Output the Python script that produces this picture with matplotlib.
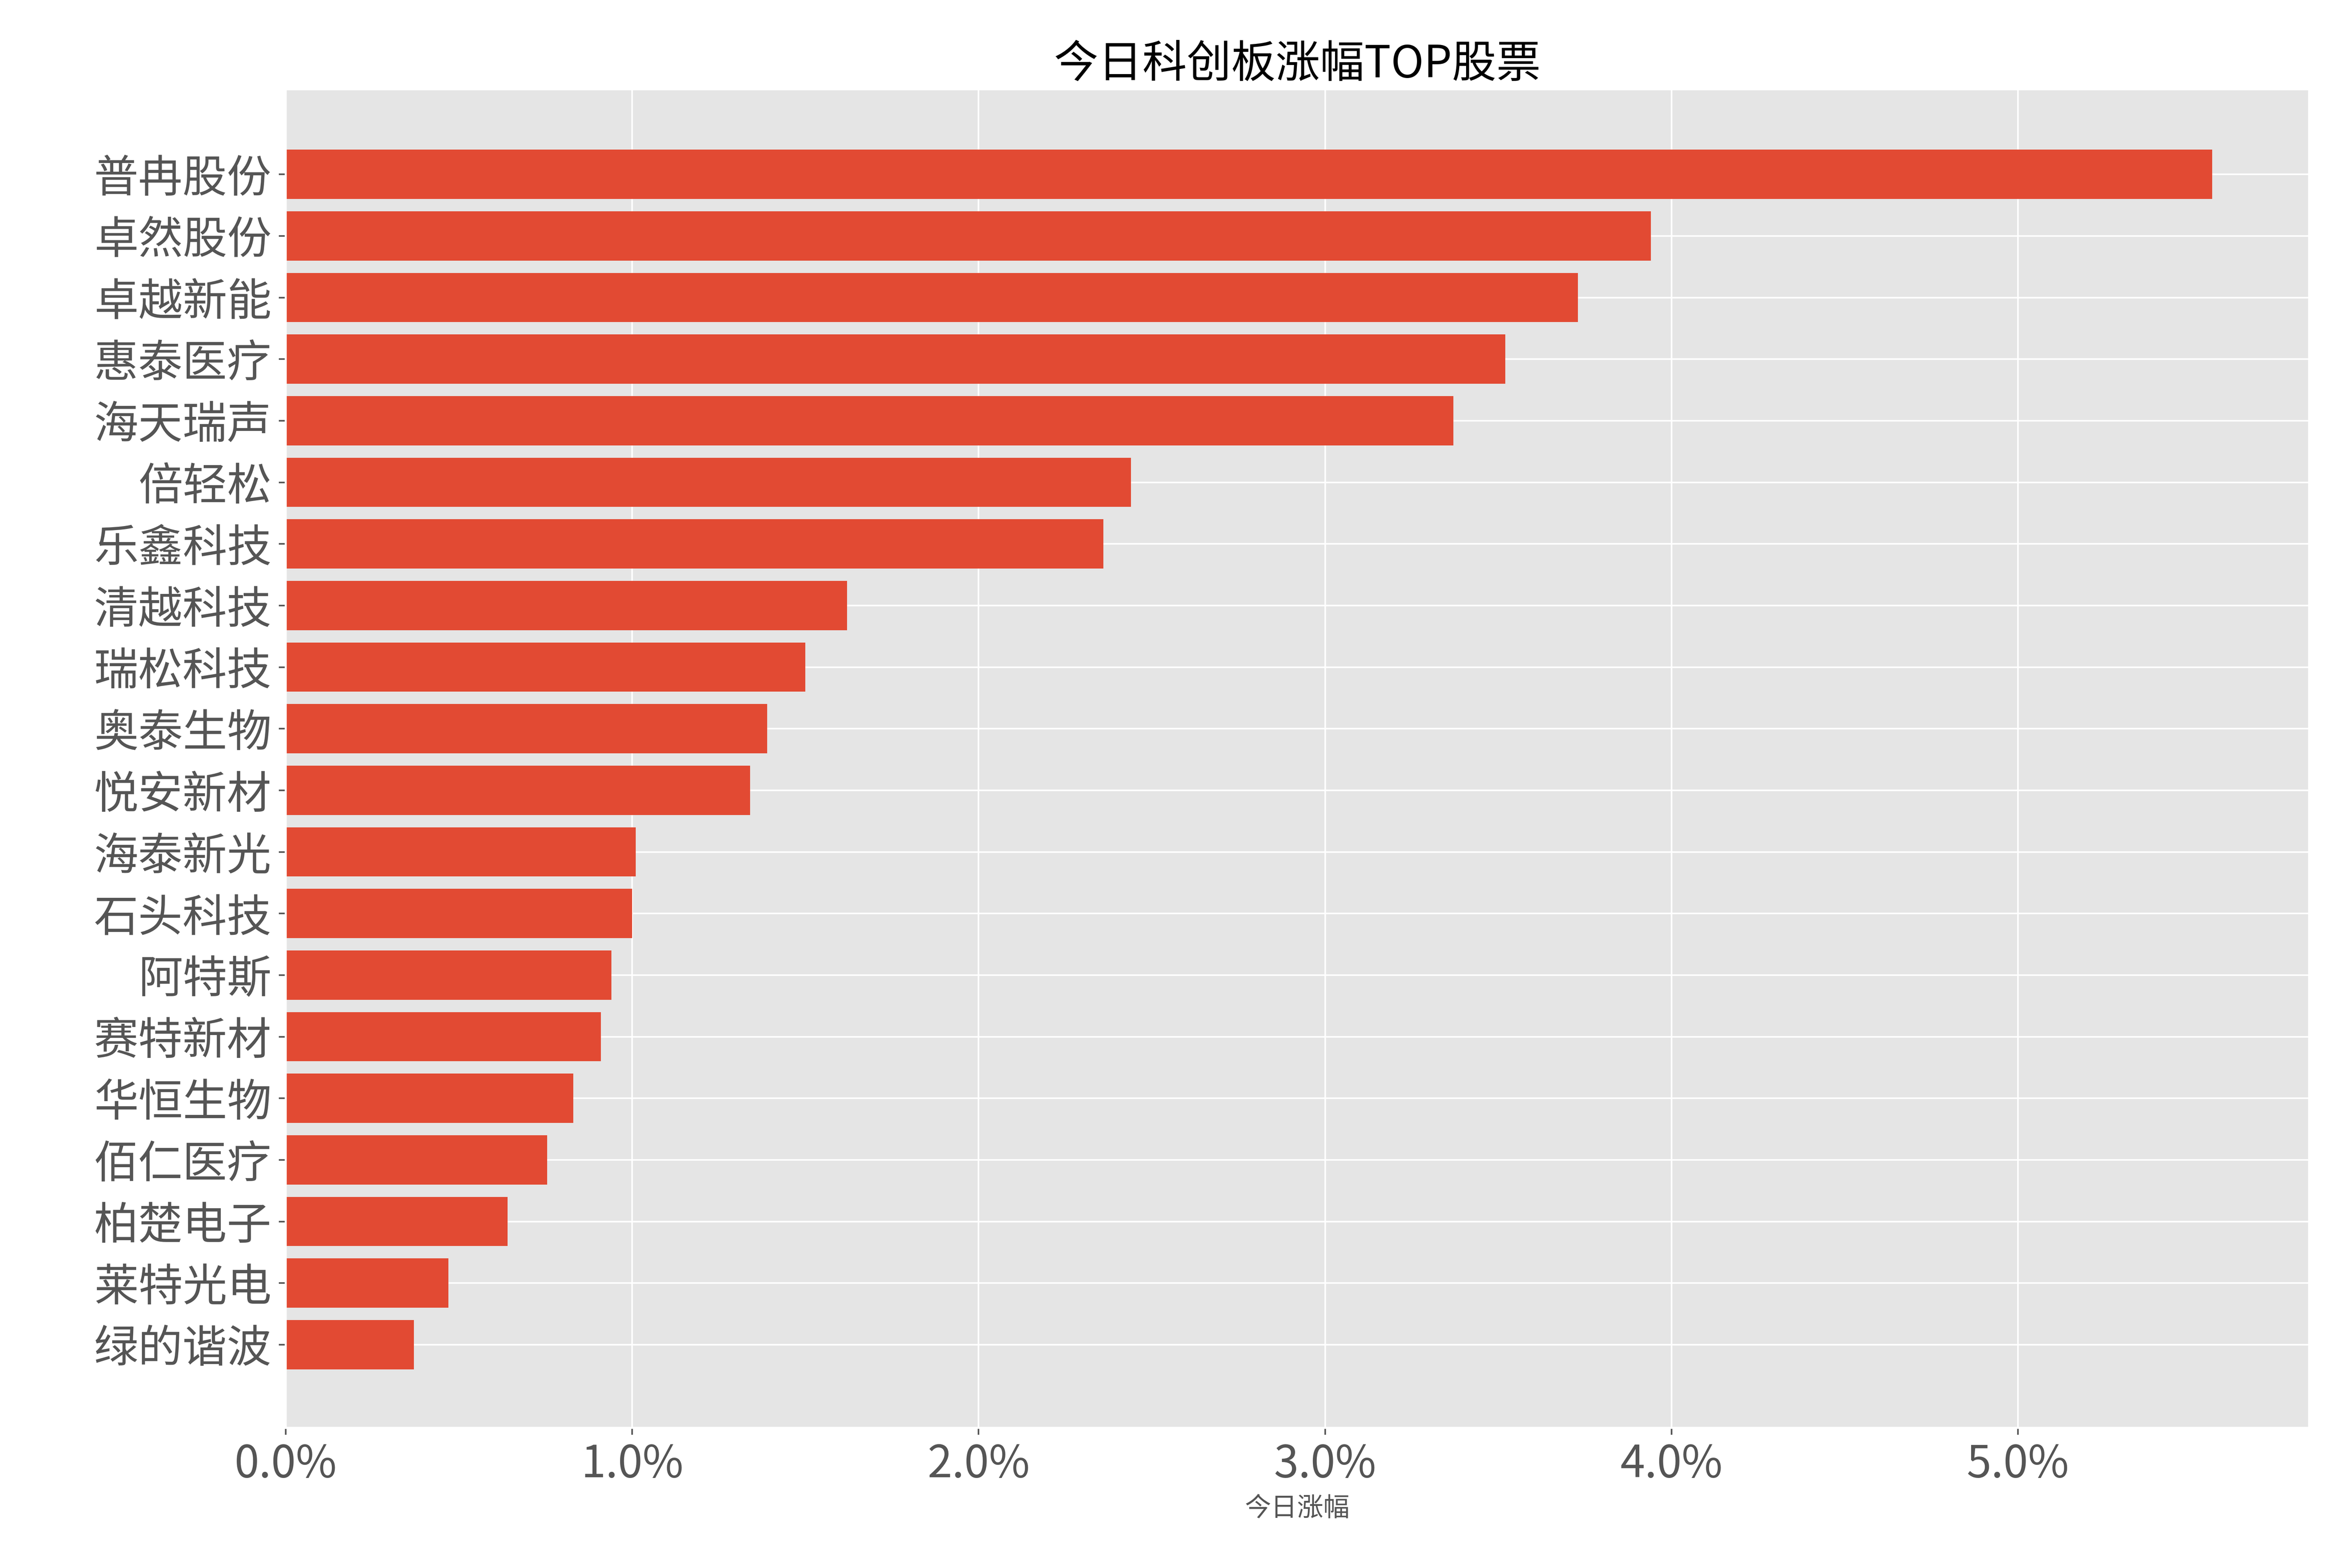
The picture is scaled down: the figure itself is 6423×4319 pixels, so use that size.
import matplotlib
matplotlib.use("Agg")
import matplotlib.pyplot as plt
from matplotlib.ticker import FuncFormatter

plt.style.use("ggplot")
plt.rcParams['font.family'] = ['Noto Sans CJK SC', 'DejaVu Sans']

names = ["普冉股份","卓然股份","卓越新能","惠泰医疗","海天瑞声","倍轻松","乐鑫科技","清越科技","瑞松科技","奥泰生物",
         "悦安新材","海泰新光","石头科技","阿特斯","赛特新材","华恒生物","佰仁医疗","柏楚电子","莱特光电","绿的谐波"]
values = [5.56,3.94,3.73,3.52,3.37,2.44,2.36,1.62,1.50,1.39,1.34,1.01,1.00,0.94,0.91,0.83,0.755,0.64,0.47,0.37]

fig = plt.figure(figsize=(16.06, 10.7975), dpi=400)
ax = fig.add_axes([0.1225, 0.0894, 0.8675, 0.8536])
ax.barh(names, values, color="#E24A33", height=0.8)
ax.invert_yaxis()
ax.set_ylim(len(names) - 1 + 1.35, -1.38)
ax.set_xlim(0, 5.84)
ax.xaxis.set_major_formatter(FuncFormatter(lambda v, p: f"{v:.1f}%"))
ax.tick_params(axis='both', labelsize=22, colors='#555555')
ax.set_xlabel("今日涨幅", fontsize=13, color='#555555')
ax.set_title("今日科创板涨幅TOP股票", fontsize=22, color='black')
fig.savefig("out.png", dpi=400)
